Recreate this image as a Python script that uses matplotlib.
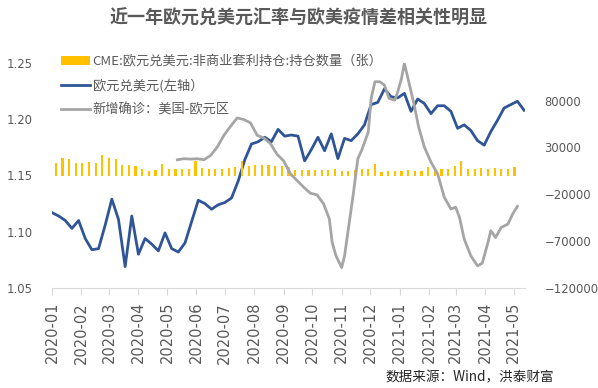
import numpy as np
import pandas as pd
import matplotlib
matplotlib.use("Agg")
import matplotlib.pyplot as plt
import matplotlib.dates as mdates

plt.rcParams['font.family'] = ['Noto Sans CJK SC', 'DejaVu Sans']

# 欧元兑美元 (weekly)
eur_start = '2020-01-01'
eurusd = [1.117, 1.114, 1.110, 1.103, 1.110, 1.094, 1.084, 1.085, 1.106, 1.129,
          1.111, 1.069, 1.114, 1.080, 1.094, 1.089, 1.083, 1.099, 1.085, 1.082,
          1.090, 1.109, 1.128, 1.125, 1.120, 1.124, 1.126, 1.130, 1.145, 1.164,
          1.178, 1.180, 1.184, 1.180, 1.191, 1.185, 1.186, 1.185, 1.163, 1.173,
          1.184, 1.172, 1.187, 1.165, 1.183, 1.181, 1.187, 1.195, 1.213, 1.215,
          1.227, 1.220, 1.219, 1.223, 1.207, 1.218, 1.214, 1.205, 1.212, 1.212,
          1.207, 1.192, 1.195, 1.190, 1.181, 1.177, 1.189, 1.199, 1.210, 1.213,
          1.216, 1.208]

# CME 非商业净持仓 (weekly)
cme_start = '2020-01-05'
cme = [13100, 18400, 17400, 13100, 13100, 14500, 13100, 22000, 18400, 17400,
       11200, 11200, 10200, 7000, 5100, 5900, 12300, 7000, 7000, 7000,
       7000, 15500, 7700, 7000, 7000, 7000, 8400, 9400, 15500, 10500,
       11200, 11200, 11200, 10500, 10000, 8600, 6400, 6100, 6400, 5900,
       5400, 5400, 7000, 5100, 5100, 5900, 7000, 7000, 12300, 4100,
       4800, 4800, 4800, 5600, 4800, 4800, 8800, 5100, 7000, 7000,
       10200, 15500, 7000, 7000, 7700, 7000, 7700, 7000, 7000, 8800]

# 新增确诊：美国-欧元区
case_dates = ['2020-05-12', '2020-05-19', '2020-05-26', '2020-06-02', '2020-06-09',
              '2020-06-16', '2020-06-23', '2020-06-30', '2020-07-07', '2020-07-14',
              '2020-07-21', '2020-07-28', '2020-08-04', '2020-08-11', '2020-08-18',
              '2020-08-25', '2020-09-01', '2020-09-08', '2020-09-15', '2020-09-22',
              '2020-09-29', '2020-10-06', '2020-10-13', '2020-10-19', '2020-10-22',
              '2020-10-26', '2020-11-01', '2020-11-04', '2020-11-08', '2020-11-13',
              '2020-11-18', '2020-11-22', '2020-11-29', '2020-12-02', '2020-12-06',
              '2020-12-11', '2020-12-16', '2020-12-21', '2020-12-27', '2020-12-30',
              '2021-01-03', '2021-01-06', '2021-01-11', '2021-01-16', '2021-01-21',
              '2021-01-27', '2021-02-03', '2021-02-10', '2021-02-17', '2021-02-24',
              '2021-03-01', '2021-03-05', '2021-03-10', '2021-03-17', '2021-03-24',
              '2021-03-29', '2021-04-04', '2021-04-07', '2021-04-12', '2021-04-18',
              '2021-04-25', '2021-04-30', '2021-05-05']
case_diff = [16800, 17900, 17500, 17900, 16800, 21400, 30400, 42900, 52500, 61400,
             59700, 56100, 42900, 40000, 34000, 22500, 15500, 1800, -5400, -12500,
             -18900, -20600, -30300, -46400, -71400, -85700, -98200, -85700, -57100, -21400,
             17900, 26800, 46400, 82100, 100000, 100000, 96400, 82100, 80400, 89300,
             103600, 119600, 98200, 76800, 51800, 30400, 14300, 1800, -23200, -35700,
             -33900, -44600, -67900, -85700, -96400, -93500, -71400, -58900, -66100, -55400,
             -51800, -41100, -32900]

eur_x = pd.date_range(eur_start, periods=len(eurusd), freq='7D')
cme_x = pd.date_range(cme_start, periods=len(cme), freq='7D')
case_x = pd.to_datetime(case_dates)

txt = '#595959'
fig = plt.figure(figsize=(5.98, 3.88), dpi=100)
ax = fig.add_axes([52 / 598, 100 / 388, 473 / 598, 225 / 388])
ax2 = ax.twinx()

l1, = ax.plot(eur_x, eurusd, color='#2F5597', lw=2.0, label='欧元兑美元(左轴）')
b = ax2.bar(cme_x, cme, width=2.3, color='#FFC000', label='CME:欧元兑美元:非商业套利持仓:持仓数量（张）')
l2, = ax2.plot(case_x, case_diff, color='#A5A5A5', lw=2.0, label='新增确诊：美国-欧元区')

ax.set_xlim(pd.Timestamp('2020-01-01'), pd.Timestamp('2021-05-13'))
ax.set_ylim(1.05, 1.25)
ax.set_yticks([1.05, 1.10, 1.15, 1.20, 1.25])
ax.set_yticklabels(['%.2f' % v for v in [1.05, 1.10, 1.15, 1.20, 1.25]])
ax2.set_ylim(-120000, 120000)
ax2.set_yticks([-120000, -70000, -20000, 30000, 80000])

ax.xaxis.set_major_locator(mdates.MonthLocator())
ax.xaxis.set_major_formatter(mdates.DateFormatter('%Y-%m'))

for a in (ax, ax2):
    for s in ('top', 'left', 'right'):
        a.spines[s].set_visible(False)
    a.spines['bottom'].set_color('#D9D9D9')
ax2.spines['bottom'].set_visible(False)

ax.tick_params(axis='x', length=5, color='#D9D9D9', pad=5, labelcolor=txt, rotation=90)
ax.tick_params(axis='y', length=0, pad=14, labelcolor=txt)
ax2.tick_params(axis='y', length=0, pad=14, labelcolor=txt)
for lab in ax.get_xticklabels():
    lab.set_fontfamily('DejaVu Sans')
    lab.set_fontsize(10.5)
for lab in ax.get_yticklabels() + ax2.get_yticklabels():
    lab.set_fontfamily('DejaVu Sans')
    lab.set_fontsize(8.4)

leg = ax2.legend(handles=[b, l1, l2], loc='upper left',
                 bbox_to_anchor=(61 / 598, 1 - 55 / 388), bbox_transform=fig.transFigure,
                 frameon=False, fontsize=9.5, handlelength=2.2, handletextpad=0.2,
                 borderpad=0, borderaxespad=0, labelspacing=0.8)
for t in leg.get_texts():
    t.set_color(txt)

fig.text(0.5, 1 - 18 / 388, '近一年欧元兑美元汇率与欧美疫情差相关性明显',
         ha='center', va='center', fontsize=13, fontweight='bold', color=txt)
fig.text(554 / 598, 1 - 377 / 388, '数据来源：Wind，洪泰财富',
         ha='right', va='center', fontsize=9.8, color='#262626')

fig.savefig('out.png', dpi=100)
